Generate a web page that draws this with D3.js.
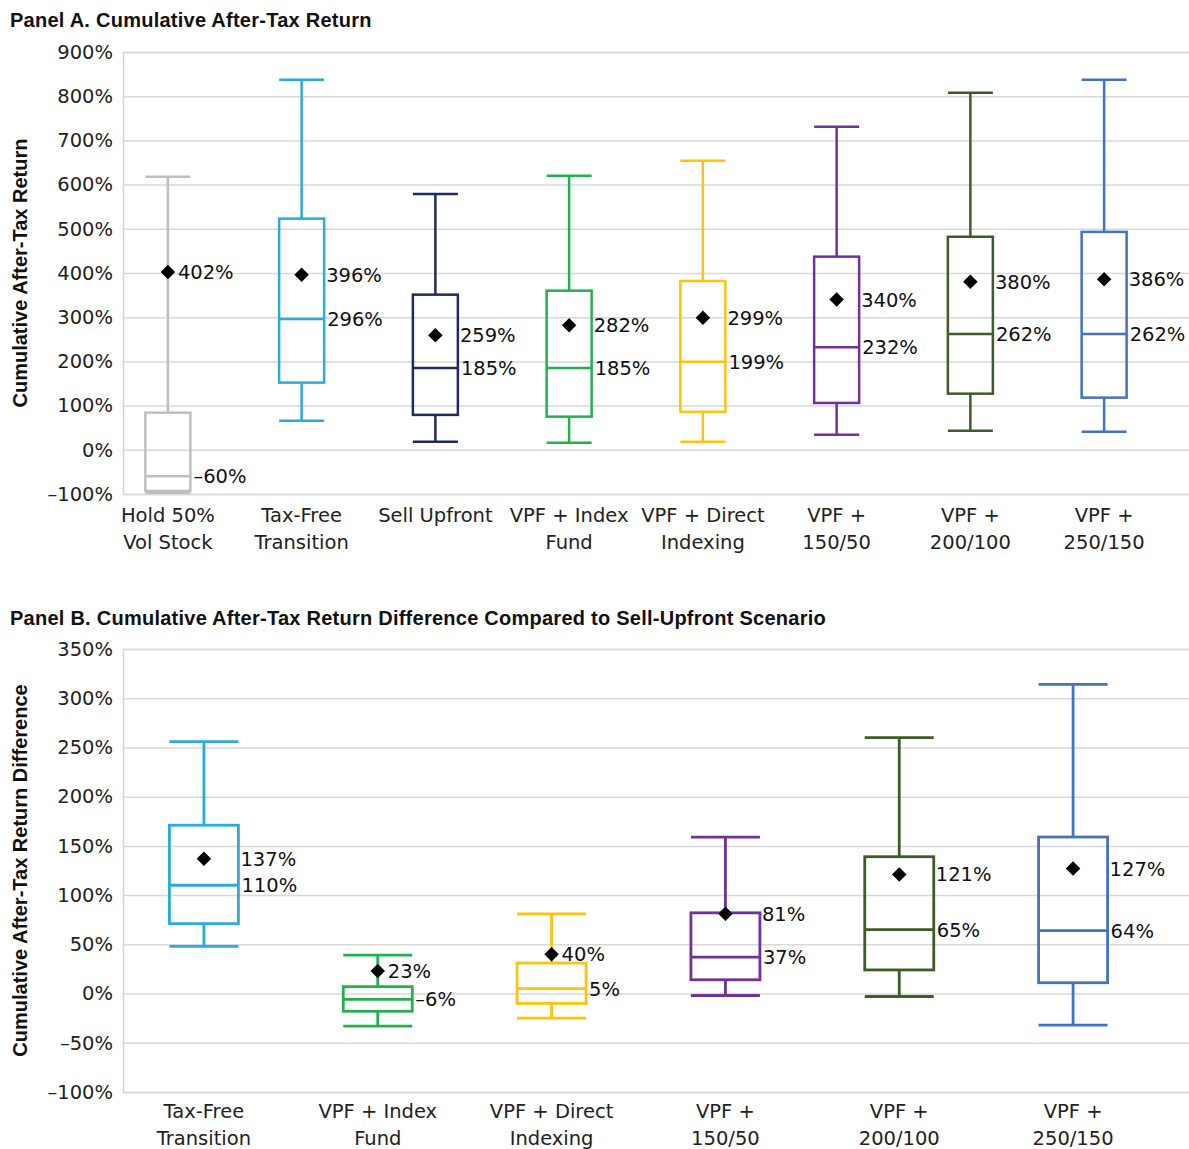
<!DOCTYPE html>
<html>
<head>
<meta charset="utf-8">
<script src="https://cdn.jsdelivr.net/npm/d3@7"></script>
<style>
  html, body { margin: 0; padding: 0; background: #fff; }
  svg { display: block; font-family: "DejaVu Sans", sans-serif; }
</style>
</head>
<body>
<svg id="chart" width="1189" height="1149"></svg>
<script>
// ---------- DATA ----------
const catsA = ["Hold 50%\nVol Stock", "Tax-Free\nTransition", "Sell Upfront", "VPF + Index\nFund",
               "VPF + Direct\nIndexing", "VPF +\n150/50", "VPF +\n200/100", "VPF +\n250/150"];
const minA    = [-97,  66, 18,  16,  18,  34,  43,  41];
const q1A     = [-93, 152, 79,  75,  86, 106, 127, 118];
const medianA = [-60, 296, 185, 185, 199, 232, 262, 262];
const q3A     = [ 84, 523, 351, 360, 382, 437, 482, 493];
const maxA    = [618, 837, 579, 620, 654, 731, 808, 837];
const meanA   = [402, 396, 259, 282, 299, 340, 380, 386];
const ticksA  = [-100, 0, 100, 200, 300, 400, 500, 600, 700, 800, 900];

const catsB = ["Tax-Free\nTransition", "VPF + Index\nFund", "VPF + Direct\nIndexing",
               "VPF +\n150/50", "VPF +\n200/100", "VPF +\n250/150"];
const minB    = [ 48, -33, -25,  -2,  -3, -32];
const q1B     = [ 71, -18, -10,  14,  24,  11];
const medianB = [110,  -6,   5,  37,  65,  64];
const q3B     = [171,   7,  31,  82, 139, 159];
const maxB    = [256,  39,  81, 159, 260, 314];
const meanB   = [137,  23,  40,  81, 121, 127];
const ticksB  = [-100, -50, 0, 50, 100, 150, 200, 250, 300, 350];

const colorsA = ["#bfbfbf", "#29abe2", "#1f2a5e", "#22b14c", "#ffc20e", "#7030a0", "#3d5c27", "#4472c4"];
const colorsB = ["#29abe2", "#22b14c", "#ffc20e", "#7030a0", "#3d5c27", "#4472c4"];

// ---------- DRAW ----------
const svg = d3.select("#chart");
const pct = v => (v < 0 ? "\u2013" + Math.abs(v) : "" + v) + "%";
const BOLD = "\"Liberation Sans\", Arial, sans-serif";
const REG = "\"DejaVu Sans\", sans-serif";

function panel(cfg) {
  const g = svg.append("g");
  const y = d3.scaleLinear().domain(cfg.domain).range([cfg.bottom, cfg.top]);
  const x = d3.scalePoint().domain(cfg.cats).range(cfg.xr).padding(0.5);

  // title
  g.append("text").attr("x", 10).attr("y", cfg.titleY)
    .attr("font-family", BOLD).attr("font-size", 20).attr("font-weight", "bold").attr("fill", "#111")
    .attr("letter-spacing", 0.25)
    .text(cfg.title);

  // grid
  const axis = d3.axisLeft(y).tickValues(cfg.ticks).tickFormat(pct)
    .tickSize(-(cfg.right - cfg.left)).tickPadding(10);
  const ax = g.append("g").attr("transform", `translate(${cfg.left},0)`).call(axis);
  ax.select(".domain").attr("stroke", "#d4d4d4").attr("stroke-width", 1.5);
  ax.selectAll(".tick line").attr("stroke", "#d9d9d9").attr("stroke-width", 1.5);
  ax.selectAll(".tick text").attr("font-size", 19.5).attr("fill", "#222").attr("font-family", REG);

  // y title
  g.append("text")
    .attr("transform", `translate(${cfg.ytX},${(cfg.top + cfg.bottom) / 2 + cfg.ytShift}) rotate(-90)`)
    .attr("text-anchor", "middle").attr("dominant-baseline", "central")
    .attr("font-family", BOLD).attr("font-size", 20).attr("font-weight", "bold").attr("fill", "#111")
    .text(cfg.ytitle);

  // category labels
  cfg.cats.forEach((c, i) => {
    const t = g.append("text").attr("text-anchor", "middle")
      .attr("font-family", REG).attr("font-size", 19.5).attr("fill", "#222");
    c.split("\n").forEach((line, j) => {
      t.append("tspan").attr("x", x(c)).attr("y", cfg.bottom + cfg.catDy + j * 27).text(line);
    });
  });

  // boxes
  const bw = cfg.boxW;
  cfg.cats.forEach((c, i) => {
    const cx = x(c), col = cfg.colors[i], sw = cfg.sw;
    const bg = g.append("g").attr("stroke", col).attr("stroke-width", sw).attr("fill", "none");
    bg.append("line").attr("x1", cx).attr("x2", cx).attr("y1", y(cfg.max[i])).attr("y2", y(cfg.q3[i]));
    bg.append("line").attr("x1", cx).attr("x2", cx).attr("y1", y(cfg.q1[i])).attr("y2", y(cfg.min[i]));
    bg.append("line").attr("x1", cx - bw / 2).attr("x2", cx + bw / 2).attr("y1", y(cfg.max[i])).attr("y2", y(cfg.max[i]));
    bg.append("line").attr("x1", cx - bw / 2).attr("x2", cx + bw / 2).attr("y1", y(cfg.min[i])).attr("y2", y(cfg.min[i]));
    bg.append("rect").attr("x", cx - bw / 2).attr("y", y(cfg.q3[i]))
      .attr("width", bw).attr("height", y(cfg.q1[i]) - y(cfg.q3[i]));
    bg.append("line").attr("x1", cx - bw / 2).attr("x2", cx + bw / 2).attr("y1", y(cfg.median[i])).attr("y2", y(cfg.median[i]));

    // mean diamond
    g.append("path").attr("d", d3.symbol(d3.symbolSquare, 105)())
      .attr("transform", `translate(${cx},${y(cfg.mean[i])}) rotate(45)`)
      .attr("fill", "#000");

    const inside = cfg.mean[i] <= cfg.q3[i] && cfg.mean[i] >= cfg.q1[i];
    const mx = inside ? cx + bw / 2 + 2 : cx + 10;
    g.append("text").attr("x", mx).attr("y", y(cfg.mean[i])).attr("dy", "0.36em")
      .attr("font-family", REG).attr("font-size", 19.5).attr("fill", "#111").text(pct(cfg.mean[i]));
    g.append("text").attr("x", cx + bw / 2 + 3).attr("y", y(cfg.median[i])).attr("dy", "0.36em")
      .attr("font-family", REG).attr("font-size", 19.5).attr("fill", "#111").text(pct(cfg.median[i]));
  });
}

panel({
  title: "Panel A. Cumulative After-Tax Return", titleY: 27,
  ytitle: "Cumulative After-Tax Return", ytX: 20, ytShift: 0,
  cats: catsA, min: minA, q1: q1A, median: medianA, q3: q3A, max: maxA, mean: meanA,
  ticks: ticksA, colors: colorsA, domain: [-100, 900],
  top: 52, bottom: 494, left: 123, right: 1189, xr: [101, 1171], boxW: 45, sw: 2.5, catDy: 28
});

panel({
  title: "Panel B. Cumulative After-Tax Return Difference Compared to Sell-Upfront Scenario", titleY: 625,
  ytitle: "Cumulative After-Tax Return Difference", ytX: 20, ytShift: 0,
  cats: catsB, min: minB, q1: q1B, median: medianB, q3: q3B, max: maxB, mean: meanB,
  ticks: ticksB, colors: colorsB, domain: [-100, 350],
  top: 649, bottom: 1092, left: 123, right: 1189, xr: [117, 1160], boxW: 69, sw: 2.8, catDy: 26
});
</script>
</body>
</html>
